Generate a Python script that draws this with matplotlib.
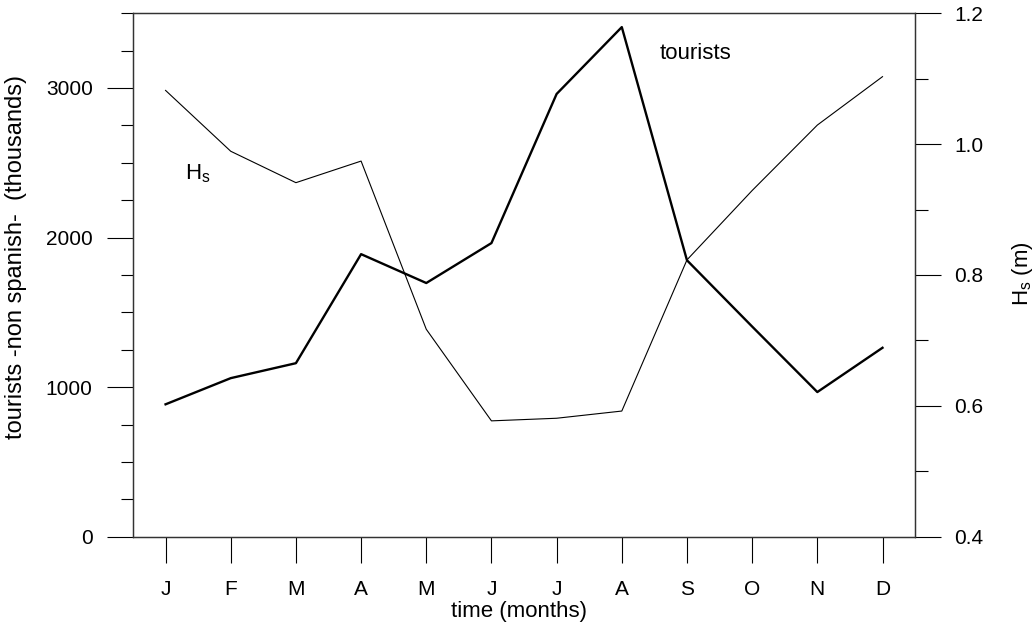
import numpy as np
import matplotlib
matplotlib.use("Agg")
import matplotlib.pyplot as plt
from matplotlib.ticker import MultipleLocator, FormatStrFormatter

plt.rcParams['font.family'] = ['Liberation Sans', 'DejaVu Sans']
plt.rcParams['mathtext.fontset'] = 'custom'
plt.rcParams['mathtext.rm'] = 'Liberation Sans'

months = ['J', 'F', 'M', 'A', 'M', 'J', 'J', 'A', 'S', 'O', 'N', 'D']
# tourists non spanish (thousands), left axis
tourists = [885, 1060, 1160, 1889, 1696, 1963, 2960, 3407, 1848, 1405, 967, 1263]
# significant wave height (m), right axis
hs = [1.082, 0.989, 0.941, 0.974, 0.717, 0.577, 0.581, 0.592, 0.823, 0.929, 1.029, 1.103]

x = np.arange(len(months))

fig = plt.figure(figsize=(10.34, 6.28), dpi=100)
ax = fig.add_axes([0.1286, 0.1454, 0.885 - 0.1286, 0.979 - 0.1454])
ax2 = ax.twinx()

ax.plot(x, tourists, color='black', lw=1.7)
ax2.plot(x, hs, color='black', lw=0.8)

ax.set_xlim(-0.5, 11.5)
ax.set_ylim(0, 3500)
ax2.set_ylim(0.4, 1.2)

ax.set_xticks(x)
ax.set_xticklabels(months)
ax.yaxis.set_major_locator(MultipleLocator(1000))
ax.yaxis.set_minor_locator(MultipleLocator(250))
ax2.yaxis.set_major_locator(MultipleLocator(0.2))
ax2.yaxis.set_minor_locator(MultipleLocator(0.1))
ax2.yaxis.set_major_formatter(FormatStrFormatter('%.1f'))

for a in (ax, ax2):
    a.tick_params(which='major', direction='out', length=19, width=0.8, labelsize=15)
    a.tick_params(which='minor', direction='out', length=9, width=0.8)
    for s in a.spines.values():
        s.set_linewidth(0.9)
        s.set_color('#333333')
ax.tick_params(axis='x', pad=12)
ax.tick_params(axis='y', pad=10)
ax2.tick_params(axis='y', pad=9)

ax.set_xlabel('time (months)', fontsize=16, va='center')
ax.xaxis.set_label_coords(0.4936, -0.1438)
ax.set_ylabel('tourists -non spanish-  (thousands)', fontsize=17, va='center')
ax.yaxis.set_label_coords(-0.1496, 0.534)
ax2.set_ylabel(r'H$_\mathregular{s}$ (m)', fontsize=16, va='center')
ax2.yaxis.set_label_coords(1.1368, 0.503)

ax.text(0.49, 2430, r'H$_\mathregular{s}$', fontsize=16, ha='center', va='center')
ax.text(8.13, 3231, 'tourists', fontsize=16, ha='center', va='center')

fig.savefig('out.png', dpi=100)
